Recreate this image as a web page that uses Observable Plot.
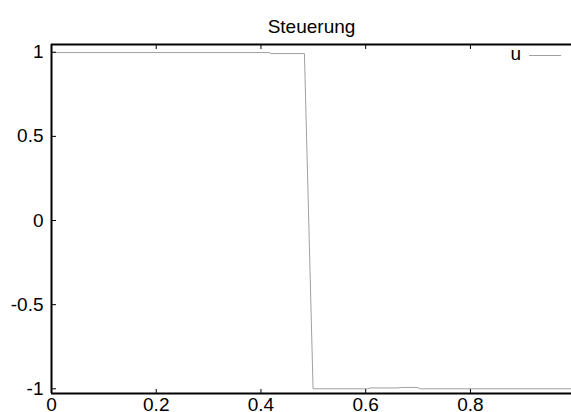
<!DOCTYPE html>
<html>
<head>
<meta charset="utf-8">
<script src="https://cdn.jsdelivr.net/npm/d3@7"></script>
<script src="https://cdn.jsdelivr.net/npm/@observablehq/plot@0.6"></script>
<style>
  html, body { margin: 0; padding: 0; background: #fff; }
  #chart svg { display: block; }
</style>
</head>
<body>
<div id="chart"></div>
<script>
const title = "Steuerung";
const seriesName = "u";
const tValues = [0, 0.417, 0.418, 0.483, 0.4995, 0.603, 0.61, 0.66, 0.67, 0.698, 0.705, 1.0];
const uValues = [0.998, 0.998, 0.992, 0.992, -1.0, -1.0, -0.995, -0.995, -0.992, -0.992, -1.0, -1.0];
const xTicks = [0, 0.2, 0.4, 0.6, 0.8];
const yTicks = [-1, -0.5, 0, 0.5, 1];
const xDomain = [0, 0.993];
const yDomain = [-1.028, 1.046];

const data = tValues.map((t, i) => ({t, u: uValues[i]}));
const font = "'Liberation Sans', Arial, Helvetica, sans-serif";
const fs = 19;
const lineColor = "#a0a0a0";

const plot = Plot.plot({
  width: 571,
  height: 412,
  marginLeft: 51,
  marginRight: 0,
  marginTop: 44,
  marginBottom: 19,
  style: {fontFamily: font, fontSize: fs + "px", background: "#fff", color: "#000"},
  x: {domain: xDomain, label: null},
  y: {domain: yDomain, label: null},
  marks: [
    Plot.line(data, {x: "t", y: "u", stroke: lineColor, strokeWidth: 1}),
    // inward ticks
    Plot.axisY({ticks: yTicks, tickSize: -5, text: null, label: null, strokeWidth: 1}),
    Plot.axisX({ticks: xTicks, anchor: "bottom", tickSize: -4, text: null, label: null, strokeWidth: 1}),
    Plot.axisX({ticks: xTicks, anchor: "top", tickSize: -4, text: null, label: null, strokeWidth: 1}),
    // labels
    Plot.axisY({ticks: yTicks, tickSize: 0, tickPadding: 8, tickFormat: d => String(d), label: null, fontSize: fs}),
    Plot.axisX({ticks: xTicks, anchor: "bottom", tickSize: 0, tickPadding: 4, tickFormat: d => String(d), label: null, fontSize: fs}),
    // frame lines (right side is outside the view)
    Plot.ruleX([xDomain[0]], {stroke: "#000", strokeWidth: 2}),
    Plot.ruleY(yDomain, {stroke: "#000", strokeWidth: 2}),
    Plot.text([title], {frameAnchor: "top", dy: -12, lineAnchor: "bottom", fontSize: fs, fill: "#000"})
  ]
});
document.getElementById("chart").appendChild(plot);

// legend (top-right inside the frame)
const svg = d3.select(plot);
const W = 571;
svg.append("text")
  .attr("x", W - 50).attr("y", 60)
  .attr("text-anchor", "end")
  .attr("font-family", font).attr("font-size", fs)
  .attr("fill", "#000")
  .text(seriesName);
svg.append("line")
  .attr("x1", W - 42).attr("x2", W - 10)
  .attr("y1", 55.5).attr("y2", 55.5)
  .attr("stroke", lineColor).attr("stroke-width", 1);
</script>
</body>
</html>
